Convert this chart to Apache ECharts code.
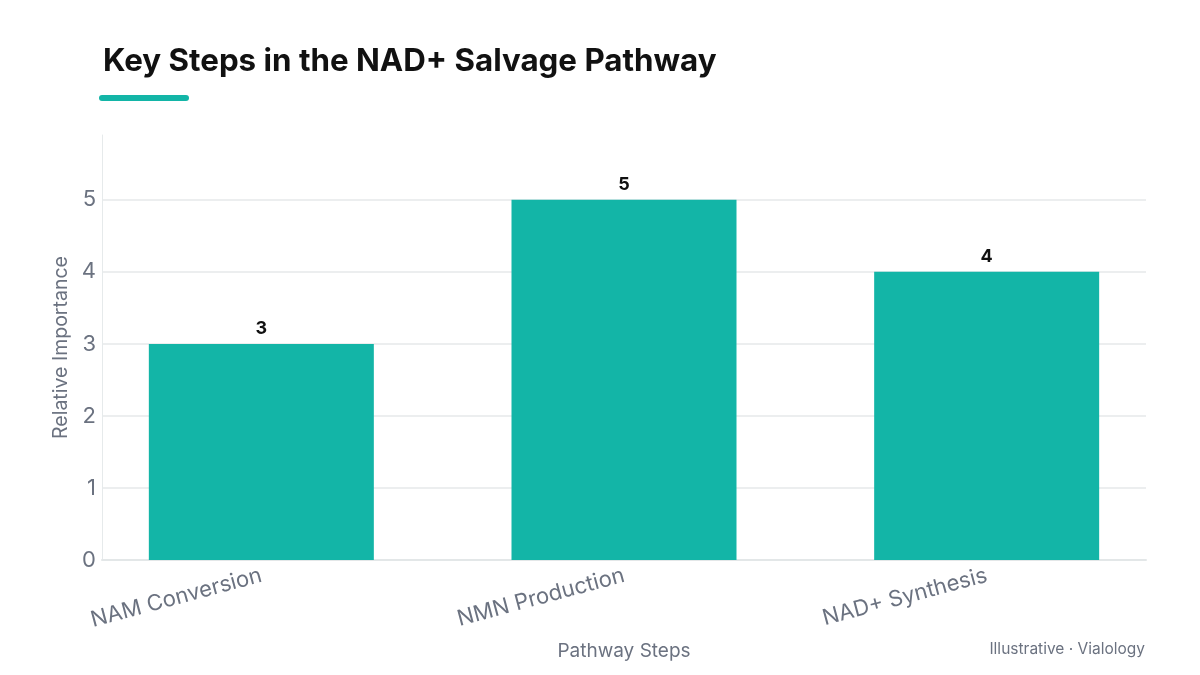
<!DOCTYPE html>
<html>
<head>
<meta charset="utf-8">
<script src="https://cdn.jsdelivr.net/npm/echarts@6/dist/echarts.min.js"></script>
<style>
  html, body { margin: 0; padding: 0; background: #fff; }
  #main { width: 1200px; height: 675px; }
</style>
</head>
<body>
<div id="main"></div>
<script>
// chart data
var steps = ['NAM Conversion', 'NMN Production', 'NAD+ Synthesis'];
var importance = [3, 5, 4];
var yTicks = [0, 1, 2, 3, 4, 5];

var teal = '#13b5a7';
var grey = '#6b7280';
var yMax = 5.9;

var chartDom = document.getElementById('main');
var myChart = echarts.init(chartDom);
var option;

option = {
  backgroundColor: '#ffffff',
  animation: false,
  title: {
    text: 'Key Steps in the NAD+ Salvage Pathway',
    left: 98,
    top: 41,
    textStyle: {
      fontFamily: 'Inter',
      fontWeight: 'bold',
      fontSize: 31.3,
      color: '#111111'
    }
  },
  graphic: [
    {
      type: 'rect',
      left: 99,
      top: 95,
      shape: { width: 90, height: 6, r: 3 },
      style: { fill: teal }
    },
    {
      type: 'text',
      right: 55,
      top: 641,
      style: {
        text: 'Illustrative · Vialology',
        fontFamily: 'Inter',
        fontSize: 15.5,
        fill: grey
      }
    }
  ],
  // grid 0 holds the frame (axis lines, gridlines, y labels)
  // grid 1 is a little wider and holds the bars and category labels
  grid: [
    { left: 102, right: 54, top: 135, bottom: 115 },
    { left: 80, right: 32, top: 135, bottom: 115 }
  ],
  xAxis: [
    {
      gridIndex: 0,
      type: 'category',
      data: steps,
      name: 'Pathway Steps',
      nameLocation: 'middle',
      nameGap: 82,
      nameTextStyle: {
        fontFamily: 'Inter',
        fontSize: 19,
        color: grey
      },
      axisLine: { lineStyle: { color: '#e3e7e8', width: 2 } },
      axisTick: { show: false },
      axisLabel: { show: false }
    },
    {
      gridIndex: 1,
      type: 'category',
      data: steps,
      axisLine: { show: false },
      axisTick: { show: false },
      axisLabel: {
        rotate: 15,
        margin: 15,
        fontFamily: 'Inter',
        fontSize: 22,
        color: grey
      }
    }
  ],
  yAxis: [
    {
      gridIndex: 0,
      type: 'value',
      min: 0,
      max: yMax,
      interval: 1,
      name: 'Relative Importance',
      nameLocation: 'middle',
      nameGap: 30,
      nameTextStyle: {
        fontFamily: 'Inter',
        fontSize: 19.5,
        color: grey
      },
      axisLine: { show: true, lineStyle: { color: '#e6eaeb', width: 1 } },
      axisTick: { show: false },
      axisLabel: {
        showMaxLabel: false,
        margin: 6,
        fontFamily: 'Inter',
        fontSize: 22,
        color: grey,
        formatter: function (v) {
          return yTicks.indexOf(v) >= 0 ? String(v) : '';
        }
      },
      splitLine: {
        showMaxLine: false,
        lineStyle: { color: '#eceeef', width: 2 }
      }
    },
    {
      gridIndex: 1,
      type: 'value',
      min: 0,
      max: yMax,
      interval: 1,
      show: false,
      splitLine: { show: false }
    }
  ],
  series: [
    {
      type: 'bar',
      xAxisIndex: 1,
      yAxisIndex: 1,
      data: importance,
      barWidth: 225,
      itemStyle: { color: teal },
      label: {
        show: true,
        position: 'top',
        distance: 6,
        fontFamily: 'Inter',
        fontWeight: 'bold',
        fontSize: 18,
        color: '#111111'
      }
    }
  ]
};

option && myChart.setOption(option);
</script>
</body>
</html>
